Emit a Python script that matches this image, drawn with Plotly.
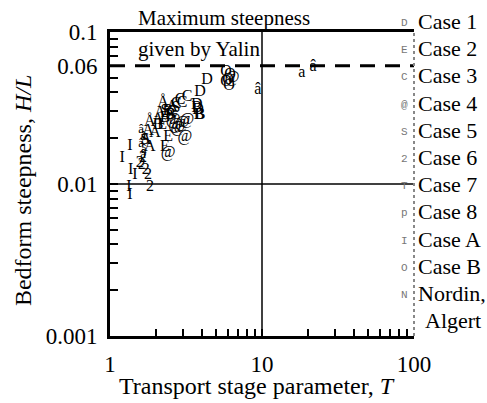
import plotly.graph_objects as go

SERIF = "Liberation Serif, Times New Roman, serif"
MONO = "Liberation Mono, Courier New, monospace"

# ---- data (transport stage T, bedform steepness H/L) ----
case1_T = [4.35, 3.91, 3.73, 3.79, 3.85]
case1_HL = [0.0483, 0.0403, 0.0331, 0.0307, 0.0284]
case1_txt = ["D", "D", "D", "D", "B"]

case2_T = [2.30, 2.41, 2.20]
case2_HL = [0.0175, 0.0204, 0.0245]
case2_txt = ["E", "E", "E"]

case3_T = [3.21, 2.89, 2.72, 2.56, 2.98]
case3_HL = [0.0374, 0.0357, 0.0336, 0.0298, 0.0340]
case3_txt = ["C", "C", "C", "C", "C"]

case4_T = [2.60, 2.98, 3.21, 3.11, 2.41, 2.80, 2.70]
case4_HL = [0.0264, 0.0252, 0.0264, 0.0204, 0.0160, 0.0234, 0.0245]
case4_txt = ["@", "@", "@", "@", "@", "@", "@"]

case5_T = [2.72, 2.48, 2.30, 1.70]
case5_HL = [0.0316, 0.0284, 0.0300, 0.0195]
case5_txt = ["S", "S", "S", "S"]

case6_T = [1.62, 1.78, 1.83, 1.65, 1.72, 1.57]
case6_HL = [0.0133, 0.0115, 0.0096, 0.0148, 0.0124, 0.0137]
case6_txt = ["2", "2", "2", "2", "2", "2"]

case7_T = [1.60, 1.65, 1.60, 1.67, 1.65]
case7_HL = [0.0227, 0.0204, 0.0185, 0.0167, 0.0155]
case7_txt = ["â", "â", "â", "â", "â"]

case8_T = [2.23, 2.56, 1.83, 1.83, 1.98, 2.13, 1.72, 1.78, 2.07]
case8_HL = [0.0341, 0.0321, 0.0256, 0.0175, 0.0217, 0.0293, 0.0195, 0.0223, 0.0264]
case8_txt = ["Å", "A", "Å", "A", "A", "A", "A", "A", "A"]

caseA_T = [1.35, 1.20, 1.37, 1.46, 1.33, 1.35]
caseA_HL = [0.0178, 0.0148, 0.0124, 0.0115, 0.0096, 0.0085]
caseA_txt = ["I", "I", "I", "I", "I", "I"]

caseB_T = [5.80, 6.16, 5.97, 6.35, 5.80, 6.07, 3.73, 3.91, 2.30, 2.07, 2.40, 2.50]
caseB_HL = [0.0546, 0.0521, 0.0483, 0.0498, 0.0469, 0.0442, 0.0316, 0.0284, 0.0272, 0.0245, 0.0300, 0.0284]
caseB_txt = ["O", "O", "O", "@", "O", "O", "B", "B", "B", "B", "B", "B"]

nordin_T = [9.4, 18.3, 21.7]
nordin_HL = [0.0415, 0.0538, 0.0589]
nordin_txt = ["â", "a", "â"]

legend_symbols = ["D", "E", "C", "@", "S", "2", "T", "p", "I", "O", "N"]
legend_labels = ["Case 1", "Case 2", "Case 3", "Case 4", "Case 5", "Case 6",
                 "Case 7", "Case 8", "Case A", "Case B", "Nordin,"]

yalin_max = 0.06

series = [
    (case1_T, case1_HL, case1_txt, 16),
    (case2_T, case2_HL, case2_txt, 16),
    (case3_T, case3_HL, case3_txt, 16),
    (case4_T, case4_HL, case4_txt, 16),
    (case5_T, case5_HL, case5_txt, 16),
    (case6_T, case6_HL, case6_txt, 16),
    (case7_T, case7_HL, case7_txt, 13),
    (case8_T, case8_HL, case8_txt, 16),
    (caseA_T, caseA_HL, caseA_txt, 16),
    (caseB_T, caseB_HL, caseB_txt, 16),
    (nordin_T, nordin_HL, nordin_txt, 16),
]

fig = go.Figure()
for xs, ys, txt, size in series:
    fig.add_trace(go.Scatter(
        x=xs, y=ys, mode="text", text=txt,
        textfont=dict(family=SERIF, size=size, color="black"),
        showlegend=False, hoverinfo="skip", cliponaxis=False))

# tick setup
x_tickvals = [m * 10 ** e for e in range(0, 2) for m in range(1, 10)] + [100]
x_ticktext = [str(v) if v in (1, 10, 100) else "" for v in x_tickvals]
y_tickvals = [round(m * 10 ** e, 4) for e in (-3, -2) for m in range(1, 10)] + [0.1]
y_lab = {0.001: "0.001", 0.01: "0.01", 0.06: "0.06", 0.1: "0.1"}
y_ticktext = [y_lab.get(v, "") for v in y_tickvals]

fig.update_layout(
    width=487, height=403,
    margin=dict(l=110, r=73, t=32, b=67),
    paper_bgcolor="white", plot_bgcolor="white",
    font=dict(family=SERIF, size=23, color="black"),
    xaxis=dict(type="log", range=[0, 2], tickvals=x_tickvals, ticktext=x_ticktext,
               ticks="inside", ticklen=7, tickwidth=1.5, tickcolor="black",
               showgrid=False, zeroline=False, showline=True, linewidth=3,
               linecolor="black", mirror=True, ticklabelstandoff=5,
               tickfont=dict(size=23), automargin=False),
    yaxis=dict(type="log", range=[-3, -1], tickvals=y_tickvals, ticktext=y_ticktext,
               ticks="inside", ticklen=8, tickwidth=1.5, tickcolor="black",
               showgrid=False, zeroline=False, showline=True, linewidth=3,
               linecolor="black", ticklabelstandoff=5,
               tickfont=dict(size=23), automargin=False),
)

shapes = [
    dict(type="line", xref="x", yref="y", x0=1, x1=100, y0=yalin_max, y1=yalin_max,
         line=dict(color="black", width=3, dash="15px,10px")),
    dict(type="line", xref="x", yref="paper", x0=10, x1=10, y0=0, y1=1,
         line=dict(color="black", width=1.5)),
    dict(type="line", xref="paper", yref="y", x0=0, x1=1, y0=0.01, y1=0.01,
         line=dict(color="black", width=1.5)),
    dict(type="line", xref="paper", yref="paper", x0=1, x1=1, y0=0, y1=1,
         line=dict(color="#888", width=2, dash="dot")),
]
fig.update_layout(shapes=shapes)

ann = []
ann.append(dict(text="Transport stage parameter, <i>T</i>", xref="paper", yref="paper",
                x=0.484, y=-0.163, xanchor="center", yanchor="middle", showarrow=False,
                font=dict(size=24)))
ann.append(dict(text="Bedform steepness, <i>H/L</i>", xref="paper", yref="paper",
                x=-0.286, y=0.477, xanchor="center", yanchor="middle", showarrow=False,
                textangle=-90, font=dict(size=24)))
ann.append(dict(text="Maximum steepness", xref="paper", yref="paper", x=0.0855, y=1.045,
                xanchor="left", yanchor="middle", showarrow=False, font=dict(size=21)))
ann.append(dict(text="given by Yalin", xref="paper", yref="paper", x=0.0855, y=0.944,
                xanchor="left", yanchor="middle", showarrow=False, font=dict(size=21)))

rows_px = [21, 48, 75, 103, 130, 157, 184, 211, 239, 266, 293]
for sym, lab, py in zip(legend_symbols, legend_labels, rows_px):
    yp = (336 - py) / 304
    ann.append(dict(text=sym, xref="paper", yref="paper", x=0.970, y=yp - 0.006,
                    xanchor="center", yanchor="middle", showarrow=False,
                    font=dict(family=MONO, size=11, color="#777")))
    ann.append(dict(text=lab, xref="paper", yref="paper", x=1.005, y=yp,
                    xanchor="left", yanchor="middle", showarrow=False,
                    font=dict(size=22)))
ann.append(dict(text="Algert", xref="paper", yref="paper", x=1.03, y=(336 - 320) / 304,
                xanchor="left", yanchor="middle", showarrow=False, font=dict(size=22)))
fig.update_layout(annotations=ann)

fig.write_html("out.html")
